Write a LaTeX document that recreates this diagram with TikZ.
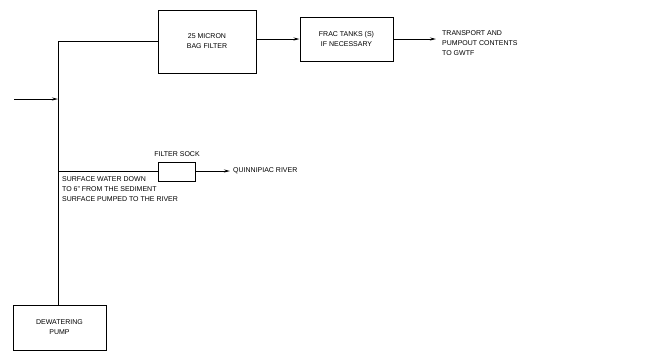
\documentclass[tikz,border=0pt]{standalone}
\usepackage{fontspec}
\setmainfont{Liberation Sans}
\usetikzlibrary{arrows.meta}
\begin{document}
\begin{tikzpicture}[x=1pt,y=-1pt,
  unit/.style={draw,line width=1pt,inner sep=0pt,align=center,font=\fontsize{7}{10}\selectfont},
  lbl/.style={inner sep=1pt,align=left,font=\fontsize{7}{10}\selectfont},
  flow/.style={line width=0.9pt,-{Stealth[length=6pt,width=3pt]}},
  pipe/.style={line width=0.9pt}]
  \useasboundingbox (0,0) rectangle (646,360);
  % process units
  \node[unit,minimum width=98pt,minimum height=63pt] (bag) at (207,41.5) {25 MICRON\\BAG FILTER};
  \node[unit,minimum width=93pt,minimum height=44pt] (frac) at (346.5,39) {FRAC TANKS (S)\\IF NECESSARY};
  \node[unit,minimum width=37pt,minimum height=19pt] (sock) at (176.5,171.5) {};
  \node[unit,minimum width=93pt,minimum height=45pt] (pump) at (59.5,327.5) {DEWATERING\\PUMP};
  \coordinate (top) at (58,41);
  \coordinate (jn) at (58,99);
  \coordinate (low) at (58,171);
  \coordinate (inlet) at (14,99);
  \coordinate (gwtf) at (436,39);
  \coordinate (river) at (230,171);
  % labels
  \node[lbl,anchor=west] (dest) at (441,43) {TRANSPORT AND\\PUMPOUT CONTENTS\\TO GWTF};
  \node[lbl] (socklbl) at (177,154.5) {FILTER SOCK};
  \node[lbl,anchor=west] (riverlbl) at (232,171) {QUINNIPIAC RIVER};
  \node[lbl,anchor=west] (note) at (61,189.5) {SURFACE WATER DOWN\\TO 6" FROM THE SEDIMENT\\SURFACE PUMPED TO THE RIVER};
  % piping
  \draw[pipe] (bag.west |- top) -- (top) -- (top |- pump.north);
  \draw[flow] (inlet) -- (jn);
  \draw[flow] (bag.east |- frac) -- (frac.west);
  \draw[flow] (frac.east) -- (gwtf);
  \draw[pipe] (low) -- (sock.west |- low);
  \draw[flow] (sock.east |- low) -- (river);
\end{tikzpicture}
\end{document}
